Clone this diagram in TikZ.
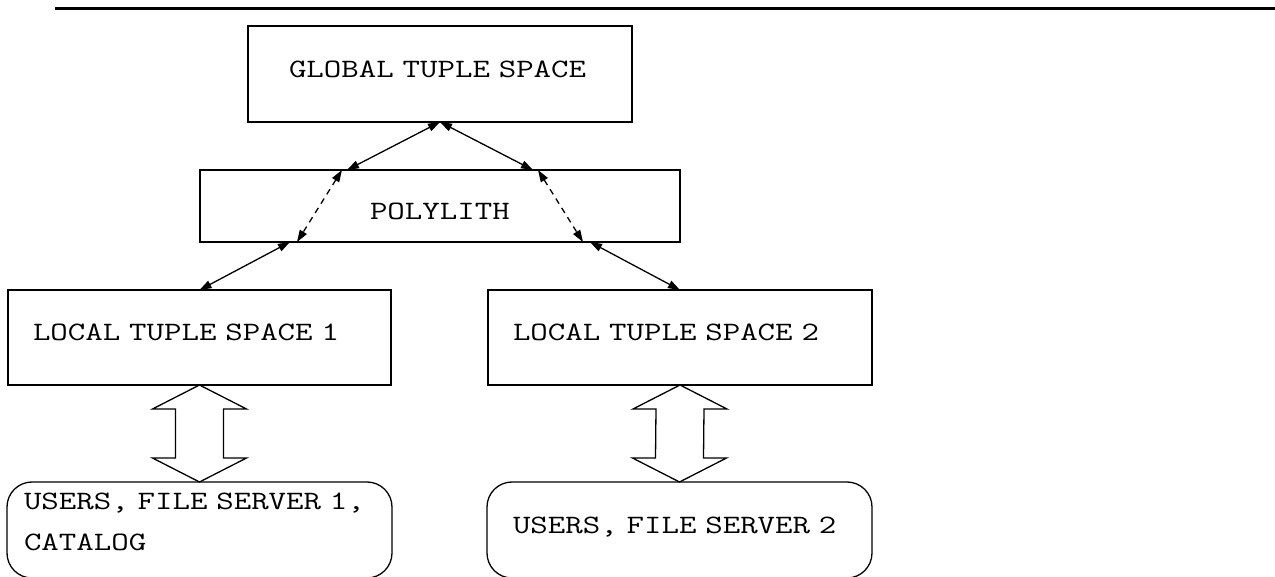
\documentclass[tikz,border=0pt]{standalone}
\usepackage{fontspec}
\newfontfamily\boxfont{Latin Modern Mono}[FakeStretch=1.28]
\usetikzlibrary{arrows.meta, calc}

\begin{document}
\begin{tikzpicture}[
    x=1pt, y=-1pt,
    space/.style={rectangle, draw, line width=1.3pt, anchor=north west, outer sep=0pt, inner ysep=0pt, align=left, text depth=10pt, font=\boxfont\fontsize{26.5}{41}\selectfont},
    users/.style={space, rounded corners=25pt},
    link/.style={draw, line width=1.3pt, {Triangle[length=12pt,width=8pt]}-{Triangle[length=12pt,width=8pt]}},
    fat/.style={draw, line width=1.3pt}
]
    \useasboundingbox (0,0) rectangle (1275,577);
    \draw[line width=2.2pt] (55,8.5) -- (1275,8.5);

    \node [space, text width=302pt, inner xsep=41pt, minimum height=96pt] (glob) at (248,26) {GLOBAL TUPLE SPACE};
    \node [space, text width=140pt, inner xsep=170pt, minimum height=72pt, text depth=0pt, text height=28pt] (poly) at (200,170) {POLYLITH};
    \node [space, text width=333pt, inner xsep=25pt, minimum height=95pt] (loc1) at (8,290) {LOCAL TUPLE SPACE 1};
    \node [space, text width=334pt, inner xsep=25pt, minimum height=95pt] (loc2) at (488,290) {LOCAL TUPLE SPACE 2};
    \node [users, text width=351pt, inner xsep=17pt, minimum height=96pt, text depth=57pt] (usr1) at (7,482) {USERS, FILE SERVER 1,\\CATALOG};
    \node [users, text width=333pt, inner xsep=26pt, minimum height=96pt] (usr2) at (487,482) {USERS, FILE SERVER 2};

    % ends of the links on the polylith box
    \coordinate (pn1) at ($(poly.north west)+(147,0)$);
    \coordinate (pn2) at ($(poly.north west)+(333,0)$);
    \coordinate (pd1) at ($(poly.north west)+(142,0)$);
    \coordinate (pd2) at ($(poly.north west)+(338,0)$);
    \coordinate (ps1) at ($(poly.south west)+(97,0)$);
    \coordinate (ps2) at ($(poly.south west)+(383,0)$);
    \coordinate (pl1) at ($(poly.south west)+(90,0)$);
    \coordinate (pl2) at ($(poly.south west)+(390,0)$);

    \path [link] (glob.south) -- (pn1);
    \path [link] (glob.south) -- (pn2);
    \path [link, dash pattern=on 6pt off 5pt] (pd1) -- (ps1);
    \path [link, dash pattern=on 6pt off 5pt] (pd2) -- (ps2);
    \path [link] (pl1) -- (loc1.north);
    \path [link] (pl2) -- (loc2.north);

    % hollow double arrows
    \draw [fat] (loc1.south) -- ++(47,24) -- ++(-23,0) -- ($(usr1.north)+(24,-24)$) -- ++(23,0) -- (usr1.north)
        -- ++(-47,-24) -- ++(23,0) -- ($(loc1.south)+(-24,24)$) -- ++(-23,0) -- cycle;
    \draw [fat] (loc2.south) -- ++(47,24) -- ++(-23,0) -- ($(usr2.north)+(24,-24)$) -- ++(23,0) -- (usr2.north)
        -- ++(-47,-24) -- ++(23,0) -- ($(loc2.south)+(-24,24)$) -- ++(-23,0) -- cycle;
\end{tikzpicture}
\end{document}
